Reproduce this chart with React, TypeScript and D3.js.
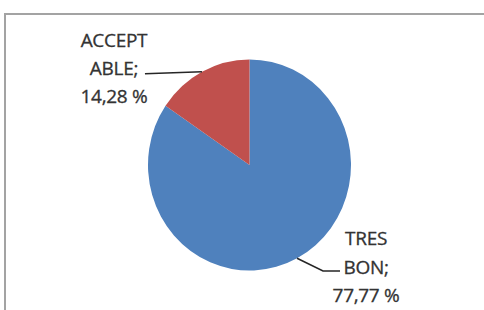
import React from 'react';
import * as d3 from 'd3';

const categories = ['TRES BON', 'ACCEPTABLE'];
const values = [77.77, 14.28];
const labelLines = [
  ['TRES', 'BON;', '77,77 %'],
  ['ACCEPT', 'ABLE;', '14,28 %'],
];
const colors = ['#4F81BD', '#C0504D'];

const width = 484;
const height = 310;

const App: React.FC = () => {
  const cx = 249.5;
  const cy = 165;
  const radius = 101.5;
  const stretchY = 1.04;

  const pieData = categories.map((c, i) => ({ name: c, value: values[i], lines: labelLines[i], color: colors[i] }));
  const pie = d3.pie<any>().sort(null).value(d => d.value);
  const arcs = pie(pieData);
  const arc = d3.arc<any>().innerRadius(0).outerRadius(radius);

  // label layout: elbow/end of leader and text centre relative to edge point
  const labelLayout = [
    { elbow: [26, 12.7], end: [43, 12.7], textX: 69, baseline: -13 },
    { elbow: [-57, 2], end: [-57, 2], textX: -88, baseline: -25 },
  ];
  const lineGap = 28.3;

  return (
    <svg width={width} height={height} style={{ position: 'absolute', left: 0, top: 0, background: '#fff' }}>
      <path d={`M5,${height} V14 H${width}`} fill="none" stroke="#a3a3a3" strokeWidth={2} />
      <g transform={`translate(${cx},${cy}) scale(1,${stretchY})`}>
        {arcs.map((a, i) => (
          <path key={i} d={arc(a) as string} fill={a.data.color} />
        ))}
      </g>
      {arcs.map((a, i) => {
        const mid = (a.startAngle + a.endAngle) / 2;
        const ex = cx + Math.sin(mid) * radius;
        const ey = cy - Math.cos(mid) * radius * stretchY;
        const l = labelLayout[i];
        const pts: [number, number][] = [
          [ex, ey],
          [ex + l.elbow[0], ey + l.elbow[1]],
          [ex + l.end[0], ey + l.end[1]],
        ];
        const tx = ex + l.textX;
        return (
          <g key={i}>
            <path d={d3.line()(pts) as string} fill="none" stroke="#262626" strokeWidth={1.6} />
            <text
              textAnchor="middle"
              fontFamily="'Open Sans', sans-serif"
              fontSize={19}
              letterSpacing={-0.3}
              fill="#333"
              stroke="#333"
              strokeWidth={0.3}
            >
              {a.data.lines.map((t: string, j: number) => (
                <tspan key={j} x={tx} y={ey + l.baseline + j * lineGap}>{t}</tspan>
              ))}
            </text>
          </g>
        );
      })}
    </svg>
  );
};

export default App;
